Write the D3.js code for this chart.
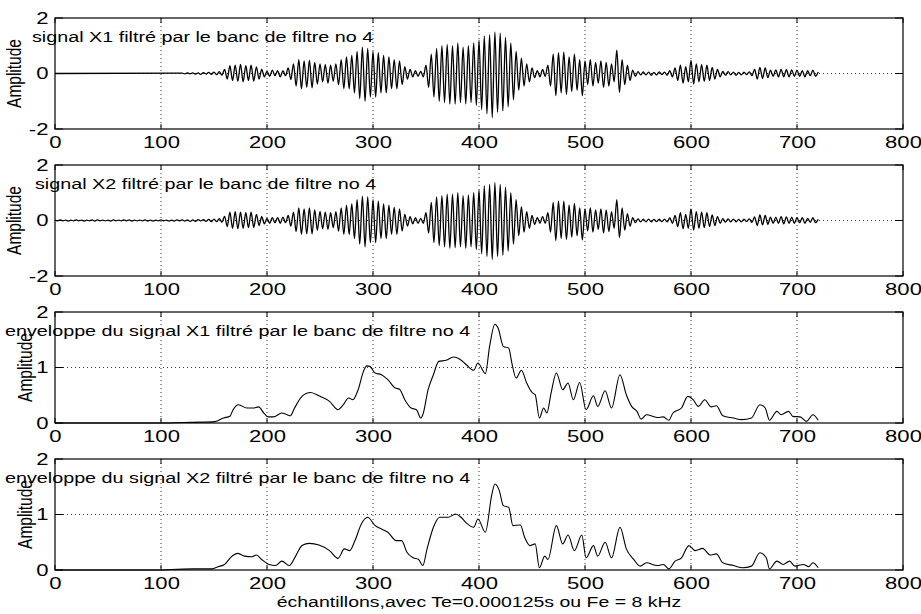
<!DOCTYPE html>
<html>
<head>
<meta charset="utf-8">
<script src="https://cdn.jsdelivr.net/npm/d3@7"></script>
<style>
body { margin: 0; background: #fff; }
text { font-family: "Liberation Sans", Arial, sans-serif; fill: #000; }
</style>
</head>
<body>
<script>
// x axis ticks (samples)
const xTicks = [0, 100, 200, 300, 400, 500, 600, 700, 800];
const sigTicks = [-2, 0, 2];
const envTicks = [0, 1, 2];

const titles = [
	"signal X1 filtré par le banc de filtre no 4",
	"signal X2 filtré par le banc de filtre no 4",
	"enveloppe du signal X1 filtré par le banc de filtre no 4",
	"enveloppe du signal X2 filtré par le banc de filtre no 4"
];
const yLabel = "Amplitude";
const xLabel = "échantillons,avec Te=0.000125s ou Fe = 8 kHz";

// filtered signals: successive peaks / troughs,
// one value every half period (2.5 samples)
const halfPeriod = 2.5;
const x1Start = 120;
const x1Ext = [
	.01,-.01,.02,-.01, .02,-.02,.02,-.03, .03,-.02,.04,-.03, .05,-.04,.07,-.06,
	.15,-.2,.28,-.25, .3,-.28,.33,-.3, .28,-.25,.3,-.27, .24,-.2,.15,-.12,
	.08,-.1,.12,-.08, .1,-.12,.1,-.08, .2,-.22,.35,-.45, .5,-.55,.45,-.5,
	.48,-.52,.4,-.38, .35,-.3,.32,-.35, .3,-.28,.35,-.4, .5,-.55,.6,-.55,
	.65,-.7,.8,-.9, .95,-1.0,.9,-.85, .8,-.85,.75,-.7, .65,-.7,.6,-.55,
	.5,-.55,.45,-.4, .25,-.2,.15,-.12, .1,-.1,.08,-.12, .3,-.5,.7,-.85,
	.9,-1.0,1.0,-1.05, 1.05,-1.1,1.0,-1.1, 1.1,-1.05,.95,-1.1, 1.0,-1.05,1.1,-1.15,
	1.2,-1.3,1.35,-1.45, 1.4,-1.59,1.5,-1.4, 1.45,-1.35,1.3,-1.2, 1.1,-.95,.8,-.6,
	.55,-.45,.35,-.3, .2,-.15,.1,-.12, .15,-.1,.3,-.45, .7,-.8,.75,-.7,
	.77,-.75,.6,-.65, .7,-.6,.5,-.8, .45,-.4,.5,-.45, .4,-.35,.45,-.5,
	.4,-.45,.35,-.3, .84,-.68,.5,-.4, .3,-.25,.12,-.1, .07,-.05,.06,-.05,
	.05,-.06,.04,-.05, .06,-.04,.05,-.06, .1,-.12,.2,-.25, .3,-.35,.25,-.3,
	.47,-.38,.35,-.3, .32,-.28,.3,-.25, .22,-.2,.15,-.12, .08,-.06,.07,-.05,
	.05,-.06,.04,-.05, .05,-.04,.06,-.08, .15,-.2,.22,-.18, .2,-.15,.12,-.1,
	.13,-.12,.15,-.12, .14,-.12,.13,-.1, .12,-.1,.1,-.12, .1,-.08,.12,-.1,
	.05
];

const x2Start = 0;
const x2Ext = [
	.01,-.01,.02,-.01, .01,-.02,.01,-.01, .02,-.01,.01,-.02, .01,-.01,.02,-.02,
	.02,-.01,.01,-.01, .01,-.02,.02,-.01, .01,-.01,.02,-.01, .02,-.02,.01,-.01,
	.01,-.01,.02,-.02, .01,-.02,.01,-.01, .02,-.01,.01,-.02, .01,-.02,.02,-.01,
	.02,-.02,.02,-.03, .02,-.03,.03,-.02, .03,-.03,.04,-.04, .05,-.04,.07,-.06,
	.15,-.22,.3,-.28, .32,-.3,.3,-.28, .28,-.26,.3,-.25, .22,-.18,.14,-.12,
	.08,-.1,.1,-.08, .1,-.1,.12,-.08, .18,-.2,.3,-.4, .45,-.5,.42,-.48,
	.45,-.48,.38,-.35, .33,-.3,.3,-.32, .28,-.26,.32,-.38, .45,-.5,.55,-.5,
	.6,-.65,.75,-.85, .88,-.95,.85,-.8, .75,-.8,.7,-.65, .6,-.65,.55,-.5,
	.48,-.5,.42,-.38, .22,-.2,.14,-.12, .1,-.1,.08,-.1, .28,-.45,.65,-.8,
	.85,-.9,.9,-.95, .95,-1.0,.95,-.98, 1.0,-.95,.9,-1.0, .92,-.95,1.0,-1.05,
	1.1,-1.2,1.25,-1.3, 1.3,-1.4,1.36,-1.3, 1.3,-1.25,1.2,-1.1, 1.0,-.85,.75,-.55,
	.5,-.42,.32,-.28, .18,-.14,.1,-.1, .14,-.1,.28,-.42, .65,-.72,.7,-.65,
	.7,-.68,.55,-.6, .62,-.55,.45,-.7, .42,-.38,.45,-.42, .38,-.32,.42,-.45,
	.38,-.4,.32,-.28, .75,-.62,.45,-.35, .25,-.2,.1,-.08, .06,-.05,.05,-.05,
	.05,-.05,.04,-.04, .05,-.04,.05,-.05, .09,-.1,.18,-.22, .28,-.3,.22,-.28,
	.42,-.35,.32,-.28, .3,-.26,.28,-.22, .2,-.18,.14,-.1, .07,-.06,.06,-.05,
	.05,-.05,.04,-.05, .05,-.04,.06,-.07, .13,-.18,.2,-.16, .18,-.14,.12,-.1,
	.12,-.1,.14,-.12, .13,-.1,.12,-.1, .1,-.08,.1,-.1, .08,-.07,.1,-.08,
	.04
];

// envelopes: [sample, amplitude]
const env1 = [
	[0,0],[100,0],[120,.01],[140,.015],[149,.02],[152,.03],[159,.09],[165,.12],[168,.24],
	[173,.33],[181,.27],[187,.27],[192,.29],[197,.18],[201,.11],[206,.11],[214,.18],
	[219,.15],[222,.13],[226,.27],[233,.48],[241,.55],[250,.48],[259,.39],[267,.24],
	[272,.33],[277,.45],[281,.42],[286,.6],[291,.93],[294,1.03],[297,1.02],[302,.9],
	[308,.87],[314,.78],[321,.63],[325,.61],[330,.42],[336,.27],[341,.24],[345,.09],
	[347,.15],[352,.6],[357,.87],[362,1.11],[369,1.13],[376,1.19],[382,1.15],[388,1.05],
	[395,.95],[399,1.08],[406,.89],[410,1.38],[415,1.78],[418,1.71],[423,1.38],[428,1.35],
	[431,1.08],[435,.81],[440,.95],[445,.72],[450,.55],[453,.51],[457,.09],[461,.27],
	[464,.18],[468,.54],[473,.9],[479,.6],[484,.72],[489,.42],[495,.73],[501,.24],
	[508,.49],[512,.3],[519,.58],[525,.27],[533,.87],[539,.51],[544,.3],[549,.21],
	[553,.07],[558,.15],[568,.1],[574,.11],[579,.05],[583,.18],[591,.27],[597,.48],
	[602,.42],[607,.3],[613,.42],[619,.29],[624,.31],[630,.13],[640,.09],[648,.06],
	[657,.09],[665,.33],[670,.27],[674,.05],[681,.21],[685,.15],[692,.21],[696,.12],
	[703,.11],[709,.03],[715,.15],[720,.05]
];
const env2 = [
	[0,0],[100,0],[110,.01],[130,.02],[148,.02],[154,.06],[160,.1],[167,.25],[172,.3],
	[179,.25],[186,.24],[190,.27],[195,.19],[202,.1],[208,.08],[214,.16],[221,.08],
	[227,.25],[233,.44],[240,.48],[249,.45],[259,.35],[267,.21],[273,.38],[278,.35],
	[283,.53],[289,.83],[295,.95],[302,.8],[308,.74],[314,.68],[322,.53],[327,.53],
	[332,.32],[338,.22],[343,.19],[347,.08],[351,.38],[357,.77],[363,.95],[371,.95],
	[378,1.01],[383,.95],[388,.85],[395,.77],[399,.92],[406,.68],[412,1.35],[415,1.55],
	[419,1.44],[423,1.16],[428,1.13],[432,.8],[439,.81],[443,.59],[448,.44],[453,.47],
	[457,.04],[462,.25],[465,.19],[473,.8],[479,.47],[484,.63],[490,.35],[497,.63],
	[501,.22],[508,.44],[512,.25],[519,.5],[525,.22],[533,.77],[539,.38],[546,.19],
	[552,.07],[558,.13],[568,.08],[574,.1],[579,.02],[585,.16],[591,.22],[598,.44],
	[604,.35],[611,.39],[618,.27],[624,.29],[630,.13],[640,.08],[649,.04],[657,.07],
	[665,.31],[671,.22],[674,.02],[681,.16],[687,.1],[693,.16],[698,.07],[706,.1],
	[711,.06],[715,.13],[720,.04]
];

const W = 921, H = 614;
const panelTops = [18, 165, 312, 459];
const panelH = 111;
const sx = 1.3; // the original figure is stretched horizontally

const sig1 = [[0, 0]].concat(x1Ext.map((v, i) => [x1Start + i * halfPeriod, v]));
const sig2 = x2Ext.map((v, i) => [x2Start + i * halfPeriod, v]);

const panels = [
	{data: sig1, dom: [-2, 2], ticks: sigTicks, title: titles[0], tx: 32, labelX: 21, sw: 1.3},
	{data: sig2, dom: [-2, 2], ticks: sigTicks, title: titles[1], tx: 35, labelX: 21, sw: 1.3},
	{data: env1, dom: [0, 2], ticks: envTicks, title: titles[2], tx: 5, labelX: 32, sw: 1.1},
	{data: env2, dom: [0, 2], ticks: envTicks, title: titles[3], tx: 5, labelX: 32, sw: 1.1}
];

const x = d3.scaleLinear().domain([0, 800]).range([55, 903]);

const svg = d3.select("body").append("svg")
	.attr("width", W)
	.attr("height", H);

svg.append("rect")
	.attr("width", W)
	.attr("height", H)
	.attr("fill", "white");

panels.forEach((p, k) => {
	const top = panelTops[k];
	const y = d3.scaleLinear().domain(p.dom).range([top + panelH, top]);
	const g = svg.append("g");

	// dotted grid
	g.selectAll(".vgrid").data(xTicks.slice(1, -1)).join("line")
		.attr("x1", d => x(d)).attr("x2", d => x(d))
		.attr("y1", top).attr("y2", top + panelH)
		.attr("stroke", "#222").attr("stroke-width", 0.9)
		.attr("stroke-dasharray", "1,3");
	g.selectAll(".hgrid").data(p.ticks.slice(1, -1)).join("line")
		.attr("x1", x(0)).attr("x2", x(800))
		.attr("y1", d => y(d)).attr("y2", d => y(d))
		.attr("stroke", "#222").attr("stroke-width", 0.9)
		.attr("stroke-dasharray", "1,3");

	// the curve
	g.append("path")
		.datum(p.data)
		.attr("fill", "none")
		.attr("stroke", "black")
		.attr("stroke-width", p.sw)
		.attr("stroke-linejoin", "round")
		.attr("d", d3.line().curve(d3.curveMonotoneX).x(d => x(d[0])).y(d => y(d[1])));

	// box
	g.append("rect")
		.attr("x", x(0)).attr("y", top)
		.attr("width", x(800) - x(0)).attr("height", panelH)
		.attr("fill", "none").attr("stroke", "black").attr("stroke-width", 1.2);

	// inward ticks, matlab style
	[top + panelH, top].forEach((yy, j) => {
		g.selectAll(".xt" + j).data(xTicks).join("line")
			.attr("x1", d => x(d)).attr("x2", d => x(d))
			.attr("y1", yy).attr("y2", j ? yy + 5 : yy - 5)
			.attr("stroke", "black");
	});
	[x(0), x(800)].forEach((xx, j) => {
		g.selectAll(".yt" + j).data(p.ticks).join("line")
			.attr("x1", xx).attr("x2", j ? xx - 8 : xx + 8)
			.attr("y1", d => y(d)).attr("y2", d => y(d))
			.attr("stroke", "black");
	});

	// tick labels
	const ax = g.append("g")
		.attr("transform", `translate(0,${top + panelH})`)
		.call(d3.axisBottom(x).tickValues(xTicks).tickFormat(d3.format("d")).tickSize(0).tickPadding(7));
	const ay = g.append("g")
		.attr("transform", `translate(${x(0)},0)`)
		.call(d3.axisLeft(y).tickValues(p.ticks).tickFormat(d => d < 0 ? "-" + Math.abs(d) : String(d)).tickSize(0).tickPadding(5));
	[ax, ay].forEach(a => {
		a.select(".domain").remove();
		a.selectAll("text")
			.attr("fill", "black")
			.style("font-size", "17px")
			.attr("transform", `scale(${sx},1)`);
	});

	g.append("text")
		.attr("transform", `translate(${p.labelX},${top + panelH / 2}) scale(${sx},1) rotate(-90)`)
		.attr("text-anchor", "middle")
		.style("font-size", "15.5px")
		.text(yLabel);

	g.append("text")
		.attr("transform", `translate(${p.tx},${top + 24}) scale(${sx},1)`)
		.style("font-size", "15.2px")
		.text(p.title);
});

svg.append("text")
	.attr("transform", `translate(${(x(0) + x(800)) / 2},607) scale(${sx},1)`)
	.attr("text-anchor", "middle")
	.style("font-size", "15px")
	.text(xLabel);
</script>
</body>
</html>
